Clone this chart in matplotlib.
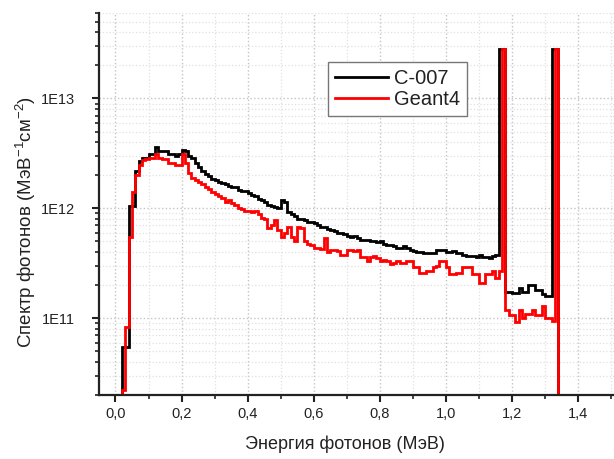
import numpy as np
import matplotlib
matplotlib.use('Agg')
import matplotlib.pyplot as plt
from matplotlib.ticker import MultipleLocator, LogLocator, FuncFormatter, NullFormatter

plt.rcParams['font.family'] = ['Liberation Sans', 'DejaVu Sans']
plt.rcParams['mathtext.fontset'] = 'custom'
plt.rcParams['mathtext.rm'] = 'Liberation Sans'
plt.rcParams['mathtext.it'] = 'Liberation Sans'

# bins of 0.01 MeV, left edges 0.02 ... 1.33
bin_lo, bin_w, n_bins = 0.02, 0.01, 132

# C-007 spectrum, units of 1E12 (MeV^-1 cm^-2)
c007 = [
    0.055, 0.055, 1.05, 1.05, 2.2, 2.7, 2.85, 2.85, 3.1, 3.1,      # 0.02-0.11
    3.6, 3.3, 3.3, 3.3, 3.1, 3.1, 3.0, 3.1, 3.4, 3.35,             # 0.12-0.21
    3.0, 2.9, 2.6, 2.4, 2.2, 2.05, 1.95, 1.85, 1.8, 1.75,          # 0.22-0.31
    1.7, 1.65, 1.6, 1.55, 1.55, 1.48, 1.43, 1.43, 1.38, 1.33,      # 0.32-0.41
    1.3, 1.22, 1.2, 1.15, 1.08, 1.05, 1.03, 1.0, 1.18, 1.15,       # 0.42-0.51
    0.92, 0.88, 0.85, 0.8, 0.8, 0.78, 0.75, 0.75, 0.73, 0.7,       # 0.52-0.61
    0.68, 0.68, 0.65, 0.64, 0.62, 0.6, 0.6, 0.58, 0.56, 0.55,      # 0.62-0.71
    0.56, 0.54, 0.52, 0.52, 0.51, 0.5, 0.5, 0.49, 0.5, 0.47,       # 0.72-0.81
    0.46, 0.46, 0.45, 0.44, 0.44, 0.45, 0.44, 0.42, 0.41, 0.40,    # 0.82-0.91
    0.40, 0.39, 0.39, 0.39, 0.39, 0.42, 0.42, 0.42, 0.40, 0.40,    # 0.92-1.01
    0.41, 0.39, 0.39, 0.38, 0.37, 0.37, 0.37, 0.36, 0.38, 0.36,    # 1.02-1.11
    0.36, 0.35, 0.37, 0.38, 28.0, 28.0, 0.175, 0.175, 0.17, 0.17,  # 1.12-1.21
    0.19, 0.175, 0.175, 0.2, 0.2, 0.18, 0.18, 0.165, 0.16, 0.16,   # 1.22-1.31
    28.0, 28.0,                                                    # 1.32-1.33
]

# Geant4 spectrum, units of 1E12
geant4 = [
    0.022, 0.083, 0.55, 1.4, 2.0, 2.5, 2.75, 2.8, 2.85, 2.85,
    3.1, 2.9, 2.8, 2.8, 2.6, 2.6, 2.5, 2.5, 3.1, 2.6,
    2.1, 1.9, 1.8, 1.75, 1.65, 1.55, 1.5, 1.42, 1.35, 1.3,
    1.25, 1.15, 1.18, 1.12, 1.08, 1.0, 0.98, 0.95, 0.95, 0.93,
    0.95, 0.88, 0.82, 0.8, 0.66, 0.7, 0.79, 0.64, 0.55, 0.6,
    0.68, 0.55, 0.5, 0.68, 0.66, 0.5, 0.47, 0.46, 0.44, 0.44,
    0.43, 0.54, 0.4, 0.42, 0.42, 0.41, 0.38, 0.38, 0.42, 0.42,
    0.41, 0.42, 0.36, 0.36, 0.33, 0.36, 0.37, 0.35, 0.33, 0.34,
    0.33, 0.31, 0.32, 0.33, 0.32, 0.32, 0.33, 0.33, 0.29, 0.29,
    0.26, 0.26, 0.27, 0.27, 0.295, 0.3, 0.33, 0.33, 0.29, 0.25,
    0.25, 0.26, 0.26, 0.29, 0.29, 0.29, 0.255, 0.255, 0.21, 0.21,
    0.25, 0.25, 0.27, 0.23, 0.27, 28.0, 0.12, 0.107, 0.107, 0.093,
    0.12, 0.10, 0.11, 0.11, 0.12, 0.107, 0.107, 0.13, 0.10, 0.10,
    0.095, 28.0,
]

edges = np.round(bin_lo + bin_w*np.arange(n_bins+1), 3)
c007 = np.array(c007)*1e12
geant4 = np.array(geant4)*1e12

txt = '#222222'
fig = plt.figure(figsize=(6.14, 4.59), dpi=100)
ax = fig.add_axes([0.1612, 0.1394, 0.8388, 0.8323])

ax.stairs(c007, edges, baseline=1e9, color='black', lw=2.0, label='C-007')
ax.stairs(geant4, edges, baseline=1e9, color='#ff0000', lw=2.0, label='Geant4')

ax.set_yscale('log')
ax.set_xlim(-0.05, 1.509)
ax.set_ylim(2e10, 6e13)

ax.xaxis.set_major_locator(MultipleLocator(0.2))
ax.xaxis.set_minor_locator(MultipleLocator(0.1))
ax.xaxis.set_major_formatter(FuncFormatter(lambda v, p: ('%.1f' % v).replace('.', ',')))
ax.yaxis.set_major_locator(LogLocator(base=10))
ax.yaxis.set_minor_locator(LogLocator(base=10, subs=np.arange(2, 10)))
ax.yaxis.set_major_formatter(FuncFormatter(lambda v, p: '1E%d' % round(np.log10(v))))
ax.yaxis.set_minor_formatter(NullFormatter())

ax.grid(True, which='major', ls=':', color='#c4c4c4', lw=1.0)
ax.grid(True, which='minor', ls=':', color='#e0e0e0', lw=0.9)
ax.set_axisbelow(True)

for s in ['top', 'right']:
    ax.spines[s].set_visible(False)
for s in ['left', 'bottom']:
    ax.spines[s].set_linewidth(1.6)
    ax.spines[s].set_color('#222222')

ax.tick_params(which='major', direction='out', length=5, width=1.5, colors='#222222',
               labelsize=10.5, labelcolor=txt)
ax.tick_params(which='minor', direction='out', length=3, width=1.2, colors='#222222')
ax.tick_params(axis='y', which='major', pad=12)

ax.set_xlabel('Энергия фотонов (МэВ)', fontsize=13, color=txt)
ax.set_ylabel('Спектр фотонов (МэВ$^{-1}$см$^{-2}$)', fontsize=13.5, color=txt)
ax.xaxis.set_label_coords(0.478, -0.105)
ax.yaxis.set_label_coords(-0.118, 0.453)

leg = ax.legend(loc='upper left', bbox_to_anchor=(0.445, 0.872), fontsize=14.5,
                frameon=True, fancybox=False, framealpha=1, edgecolor='#777777',
                handlelength=2.6, borderpad=0.35, labelspacing=0.1, handletextpad=0.3,
                borderaxespad=0)
leg.get_frame().set_linewidth(1.0)
for t in leg.get_texts():
    t.set_color(txt)
for h in leg.get_lines():
    h.set_linewidth(2.0)

fig.savefig('out.png', dpi=100)
